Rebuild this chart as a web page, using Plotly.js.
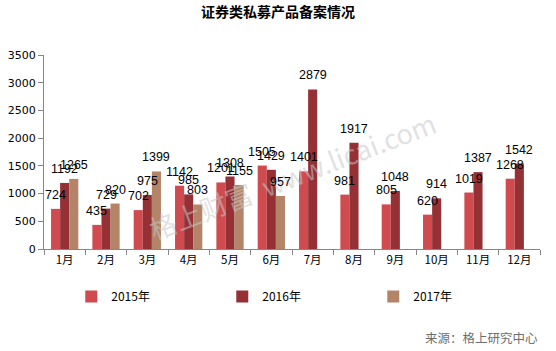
<!DOCTYPE html>
<html><head><meta charset="utf-8">
<script src="https://cdn.plot.ly/plotly-3.0.1.min.js"></script>
<style>body{margin:0;padding:0;background:#fff}#chart{width:556px;height:351px}</style>
</head><body><div id="chart"></div>
<script>
const months = ['1月','2月','3月','4月','5月','6月','7月','8月','9月','10月','11月','12月'];
const y2015 = [724, 435, 702, 1142, 1201, 1505, 1401, 981, 805, 620, 1019, 1268];
const y2016 = [1192, 729, 975, 985, 1308, 1429, 2879, 1917, 1048, 914, 1387, 1542];
const y2017 = [1265, 820, 1399, 803, 1155, 957, null, null, null, null, null, null];
const names = ['2015年','2016年','2017年'];
const colors = ['#CF4B4F','#953035','#B38468'];
const series = [y2015, y2016, y2017];

const BARGAP = 0.34;
const barW = (1 - BARGAP) / series.length;

const labelFont = {family:'Liberation Sans, Arial, sans-serif', size:12.5, color:'#000'};
const traces = series.map((s,i)=>({
  type:'bar', x: months, y: s, name: names[i],
  marker:{color: colors[i]}, hoverinfo:'none'
}));
// hidden trace that keeps the secondary (numeric) x axis active
traces.push({type:'scatter', mode:'none', xaxis:'x2', yaxis:'y', x:[0], y:[0], showlegend:false, hoverinfo:'none'});

// data labels drawn above all bars, on a hidden numeric axis aligned with the category axis
const labelAnns = [];
series.forEach((s,i)=>{
  const off = (i - (series.length-1)/2) * barW;
  s.forEach((v,j)=>{
    if (v == null) return;
    labelAnns.push({text:String(v), xref:'x2', yref:'y', x:j+off, y:v, xanchor:'center', yanchor:'bottom',
      yshift:5, showarrow:false, font:labelFont});
  });
});

const layout = {
  width:556, height:351,
  margin:{l:44, r:16, t:55, b:102},
  paper_bgcolor:'#fff', plot_bgcolor:'#fff',
  title:{text:'<b>证券类私募产品备案情况</b>', x:0.5, xanchor:'center', y:0.965, yanchor:'middle',
    font:{family:'Noto Sans CJK SC, sans-serif', size:14, color:'#000'}},
  barmode:'group', bargap:BARGAP, bargroupgap:0,
  xaxis:{showline:true, linecolor:'#868686', linewidth:1, ticks:'outside', tickson:'boundaries',
    ticklen:5, tickcolor:'#868686', showgrid:false, zeroline:false,
    tickfont:{family:'Noto Sans CJK SC, sans-serif', size:11.5, color:'#000'}},
  xaxis2:{overlaying:'x', range:[-0.5, months.length-0.5], visible:false, showgrid:false, zeroline:false},
  yaxis:{range:[0,3500], dtick:500, showline:true, linecolor:'#868686', linewidth:1,
    ticks:'outside', ticklen:5, tickcolor:'#868686', showgrid:false, zeroline:false,
    tickfont:{family:'DejaVu Sans, sans-serif', size:11, color:'#000'}},
  showlegend:true,
  legend:{orientation:'h', x:0.055, xanchor:'left', y:-0.245, yanchor:'middle',
    entrywidth:106, entrywidthmode:'pixels', itemwidth:30,
    font:{family:'Noto Sans CJK SC, sans-serif', size:12, color:'#000'}},
  annotations:[
    {text:'来源：格上研究中心', xref:'paper', yref:'paper', x:1.0, y:-0.455, xanchor:'right', yanchor:'middle',
     showarrow:false, font:{family:'Noto Sans CJK SC, sans-serif', size:12.5, color:'#6e6e6e'}},
    {text:'格上财富  www.licai.com', xref:'paper', yref:'paper', x:0.5, y:0.38, xanchor:'center', yanchor:'middle',
     showarrow:false, textangle:-21, font:{family:'Noto Sans CJK SC, sans-serif', size:27, color:'rgba(200,200,200,0.55)'}}
  ].concat(labelAnns)
};
Plotly.newPlot('chart', traces, layout, {displayModeBar:false, staticPlot:true});
</script></body></html>
